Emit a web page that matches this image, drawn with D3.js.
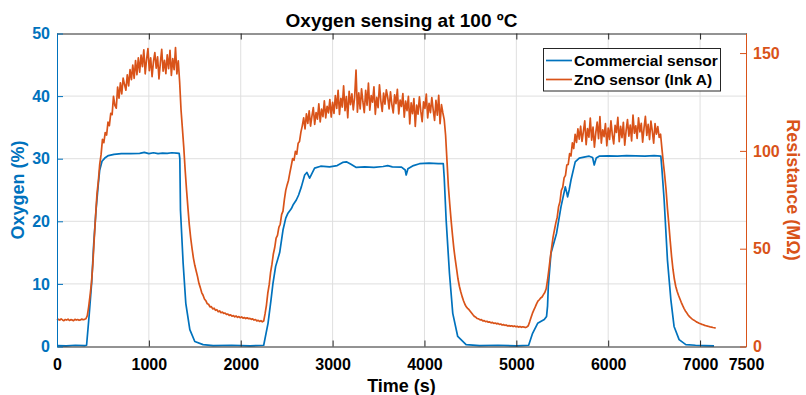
<!DOCTYPE html>
<html>
<head>
<meta charset="utf-8">
<script src="https://cdn.jsdelivr.net/npm/d3@7"></script>
<style>
  html, body { margin: 0; padding: 0; background: #fff; }
  svg { display: block; font-family: Arial, "Liberation Sans", Helvetica, sans-serif; }
</style>
</head>
<body>
<svg id="chart" width="806" height="395"></svg>
<script>
// ---- data -------------------------------------------------------------
const xTicks = [0, 1000, 2000, 3000, 4000, 5000, 6000, 7000, 7500];
const oxygenTicks = [0, 10, 20, 30, 40, 50];
const resistanceTicks = [0, 50, 100, 150];

// Commercial oxygen sensor: time (s) and oxygen (%)
const commercialTime = [
  0, 100, 200, 300, 322, 350, 377, 400, 425, 450, 465, 490, 520, 560, 620, 700, 800, 900, 950, 1000,
  1050, 1100, 1150, 1200, 1250, 1300, 1330, 1337, 1344, 1373, 1402, 1446, 1500, 1590, 1700, 1900, 2100, 2250,
  2297, 2330, 2351, 2380, 2424, 2460, 2490, 2514, 2550, 2569, 2605, 2630, 2660, 2696, 2720, 2750, 2804, 2870,
  2967, 3050, 3109, 3150, 3200, 3258, 3350, 3450, 3550, 3600, 3650, 3750, 3790, 3801, 3820, 3880, 3946, 4050,
  4150, 4205, 4215, 4236, 4272, 4308, 4362, 4453, 4600, 4800, 5000, 5134,
  5177, 5232, 5304, 5329, 5340, 5348, 5377, 5438, 5486, 5533, 5550, 5558, 5575, 5595, 5641, 5685, 5750, 5793,
  5830, 5848, 5870, 5902, 6000, 6100, 6200, 6300, 6400, 6500, 6573, 6584, 6609, 6645, 6682, 6717, 6772, 6845,
  6950, 7050, 7152
];
const commercialO2 = [
  0.15, 0.1, 0.2, 0.15, 0.2, 5.0, 10.1, 16.5, 21.8, 26.0, 28.2, 29.6, 30.1, 30.5, 30.7, 30.8, 30.8, 30.85, 31.0, 30.8,
  30.95, 30.8, 30.9, 30.85, 30.95, 30.9, 30.85, 30.0, 21.8, 13.3, 6.9, 2.7, 0.8, 0.3, 0.15, 0.2, 0.1, 0.2,
  3.7, 7.5, 10.1, 12.8, 15.0, 18.6, 20.5, 21.3, 22.0, 22.6, 23.4, 24.2, 25.5, 27.4, 27.8, 26.9, 28.5, 28.8,
  28.7, 28.9, 29.4, 29.5, 29.1, 28.6, 28.7, 28.6, 28.75, 28.9, 28.7, 28.65, 28.2, 27.4, 28.4, 28.9, 29.2, 29.3,
  29.2, 29.2, 27.0, 20.2, 11.7, 5.3, 1.6, 0.3, 0.15, 0.2, 0.1, 0.2,
  2.1, 3.7, 4.3, 4.8, 6.5, 9.6, 14.9, 18.1, 22.3, 25.5, 24.5, 23.9, 25.0, 26.6, 29.5, 30.1, 30.3, 30.4,
  30.2, 29.0, 30.1, 30.4, 30.45, 30.4, 30.5, 30.45, 30.4, 30.5, 30.4, 28.5, 23.4, 13.8, 7.5, 3.2, 1.1, 0.3,
  0.2, 0.15, 0.1
];

// ZnO sensor (Ink A): resistance (MΩ), one reading every 15 s from t = 0
const znoStart = 0;
const znoInterval = 15;
const znoResistance = [
  13.4, 13.9, 13.5, 14.1, 13.6, 13.2, 13.8, 13.5, 14.0, 13.3, 13.7, 13.6, 13.2, 13.9, 13.5, 13.8, 13.4, 13.6, 14.0, 13.7,
  13.9, 14.2, 15.8, 20.4, 26.1, 32.5, 42.0, 54.8, 66.5, 77.9, 84.6, 93.1, 98.2, 105.9, 104.2, 109.4, 108.1, 114.7, 112.9, 119.2,
  118.5, 127.9, 123.2, 121.8, 132.6, 127.0, 134.8, 129.1, 137.2, 133.9, 131.0, 138.9, 133.2, 141.6, 136.4, 143.8, 137.1, 146.2, 138.9, 147.5,
  140.2, 148.9, 143.1, 151.7, 139.4, 146.8, 152.3, 141.0, 147.5, 137.9, 145.6, 150.2, 142.3, 148.1, 136.8, 144.9, 151.9, 140.7, 146.3, 139.5,
  149.1, 142.0, 151.4, 138.6, 147.2, 141.5, 152.8, 139.3, 146.0, 135.2, 121.0, 111.5, 101.8, 90.2, 80.1, 71.0, 62.3, 55.6, 50.1, 45.2,
  41.5, 38.6, 35.7, 32.3, 30.1, 27.6, 26.2, 24.3, 23.4, 21.9, 21.6, 20.3, 20.4, 19.2, 19.6, 18.5, 18.8, 17.8, 18.2, 17.3,
  17.6, 16.9, 17.1, 16.4, 16.6, 15.9, 16.2, 15.5, 15.8, 15.2, 15.6, 14.9, 15.3, 14.7, 15.1, 14.5, 14.8, 14.3, 14.7, 14.2,
  14.4, 13.9, 14.1, 13.5, 13.8, 13.1, 13.4, 12.8, 13.2, 12.6, 13.0, 16.8, 21.2, 27.4, 31.6, 37.9, 42.1, 47.3, 50.6, 55.4,
  56.8, 60.9, 62.5, 67.4, 69.2, 75.1, 79.8, 82.6, 85.0, 88.9, 92.4, 96.1, 95.2, 99.7, 98.3, 103.9, 104.8, 109.6, 112.8, 116.9,
  111.2, 118.9, 114.0, 120.5, 112.7, 117.8, 122.1, 113.5, 119.6, 116.2, 124.0, 114.8, 121.3, 117.5, 125.6, 116.9, 122.8, 119.4, 126.2, 117.3,
  124.8, 119.1, 128.3, 121.7, 131.0, 118.6, 126.9, 122.4, 133.2, 120.5, 127.8, 116.9, 130.4, 123.6, 129.1, 121.0, 127.5, 141.3, 119.8, 129.6,
  121.4, 131.7, 125.0, 119.6, 130.9, 123.3, 134.6, 120.8, 128.2, 124.9, 132.7, 118.7, 127.4, 122.1, 133.8, 125.6, 120.2, 129.5, 123.9, 131.2,
  127.3, 121.5, 130.2, 123.8, 119.4, 128.6, 124.1, 131.5, 118.9, 126.0, 122.7, 129.3, 117.2, 125.4, 120.6, 127.9, 113.8, 124.5, 119.0, 126.7,
  112.5, 123.4, 118.8, 127.6, 120.3, 114.9, 125.1, 121.7, 129.0, 116.8, 124.3, 119.5, 127.2, 121.0, 115.6, 125.8, 118.2, 128.4, 113.9, 123.6,
  119.5, 116.0, 108.0, 95.0, 82.0, 73.0, 64.5, 57.0, 50.0, 44.5, 39.5, 34.5, 30.8, 28.0, 25.5, 23.4, 21.6, 20.3, 19.5, 18.8,
  17.9, 17.0, 16.1, 15.3, 14.9, 14.3, 14.1, 13.6, 13.7, 13.1, 13.2, 12.7, 12.9, 12.4, 12.6, 12.1, 12.3, 11.8, 12.0, 11.6,
  11.8, 11.3, 11.5, 11.0, 11.2, 10.8, 11.0, 10.5, 10.7, 10.4, 10.6, 10.2, 10.5, 10.1, 10.3, 9.9, 10.2, 9.8, 10.1, 9.9,
  9.7, 10.0, 10.6, 12.6, 14.8, 16.9, 18.6, 20.1, 21.8, 23.2, 23.9, 24.8, 25.3, 26.5, 27.6, 29.5, 34.0, 39.5, 45.5, 50.8,
  55.9, 59.6, 63.2, 66.1, 71.5, 74.0, 79.8, 81.3, 86.2, 87.5, 92.8, 93.1, 98.6, 97.4, 104.1, 101.2, 108.5, 104.3, 111.2, 106.0,
  112.6, 104.8, 109.9, 115.3, 103.2, 111.4, 107.0, 116.8, 105.5, 112.1, 101.9, 109.3, 114.7, 106.2, 117.5, 104.0, 110.8, 107.3, 113.9, 102.6,
  111.7, 105.9, 115.4, 108.2, 103.6, 113.0, 109.4, 117.1, 104.7, 112.5, 106.8, 114.6, 102.9, 110.3, 116.0, 107.5, 113.2, 105.1, 118.3, 109.0,
  112.8, 106.4, 116.9, 109.7, 114.1, 104.5, 111.6, 117.6, 107.9, 113.5, 105.8, 115.2, 110.1, 103.9, 114.0, 108.6, 112.4, 106.9, 108.5, 101.0,
  94.0, 87.5, 80.0, 70.5, 62.5, 54.0, 46.0, 39.5, 34.5, 30.8, 28.2, 26.2, 24.4, 22.6, 21.0, 19.5, 18.2, 17.2, 16.1, 15.3,
  14.6, 14.0, 13.5, 13.1, 12.6, 12.3, 11.9, 11.6, 11.3, 11.1, 10.8, 10.6, 10.4, 10.2, 10.0, 9.9, 9.7, 9.6, 9.4
];

const seriesNames = ["Commercial sensor", "ZnO sensor (Ink A)"];
const titleText = "Oxygen sensing at 100 ºC";

// ---- layout -----------------------------------------------------------
const BLUE = "#0072BD", ORANGE = "#D95319", AXIS = "#262626", GRID = "#dfdfdf";
const plotLeft = 57, plotRight = 746, plotTop = 33.5, plotBottom = 346.5;
const font = "Arial, 'Liberation Sans', Helvetica, sans-serif";

const svg = d3.select("#chart");

const x = d3.scaleLinear().domain([0, 7500]).range([plotLeft, plotRight]);
const yO2 = d3.scaleLinear().domain([0, 50]).range([plotBottom, plotTop]);
const yRes = d3.scaleLinear().domain([0, 160]).range([plotBottom, plotTop]);

// grid
const grid = svg.append("g");
grid.selectAll("line.gx")
  .data(xTicks.filter(t => t > 0 && t < 7500))
  .join("line")
  .attr("x1", d => x(d)).attr("x2", d => x(d))
  .attr("y1", plotTop).attr("y2", plotBottom)
  .attr("stroke", GRID).attr("stroke-width", 1);
grid.selectAll("line.gy")
  .data(oxygenTicks.filter(t => t > 0 && t < 50))
  .join("line")
  .attr("x1", plotLeft).attr("x2", plotRight)
  .attr("y1", d => yO2(d)).attr("y2", d => yO2(d))
  .attr("stroke", GRID).attr("stroke-width", 1);

// series
const commercial = commercialTime.map((t, i) => [t, commercialO2[i]]);
const zno = znoResistance.map((r, i) => [znoStart + i * znoInterval, r]);

const plot = svg.append("g");
plot.append("path")
  .datum(commercial)
  .attr("fill", "none").attr("stroke", BLUE).attr("stroke-width", 1.7)
  .attr("stroke-linejoin", "round")
  .attr("d", d3.line().x(d => x(d[0])).y(d => yO2(d[1])));
plot.append("path")
  .datum(zno)
  .attr("fill", "none").attr("stroke", ORANGE).attr("stroke-width", 1.7)
  .attr("stroke-linejoin", "round")
  .attr("d", d3.line().x(d => x(d[0])).y(d => yRes(d[1])));

// axes
function styleAxis(g, color, fontColor) {
  g.select(".domain").attr("stroke", color).attr("stroke-width", 1);
  g.selectAll(".tick line").attr("stroke", color).attr("stroke-width", 1);
  g.selectAll(".tick text")
    .attr("fill", fontColor)
    .style("font-size", "16px").style("font-weight", "bold")
    .style("font-family", font);
}

const xAxisBottom = svg.append("g")
  .attr("transform", `translate(0,${plotBottom})`)
  .call(d3.axisBottom(x).tickValues(xTicks).tickFormat(d3.format("d"))
    .tickSizeInner(-6).tickSizeOuter(0).tickPadding(12));
styleAxis(xAxisBottom, AXIS, "#000");

const xAxisTop = svg.append("g")
  .attr("transform", `translate(0,${plotTop})`)
  .call(d3.axisTop(x).tickValues(xTicks).tickFormat("")
    .tickSizeInner(-6).tickSizeOuter(0));
styleAxis(xAxisTop, AXIS, "#000");

const yAxisLeft = svg.append("g")
  .attr("transform", `translate(${plotLeft},0)`)
  .call(d3.axisLeft(yO2).tickValues(oxygenTicks).tickFormat(d3.format("d"))
    .tickSizeInner(-6).tickSizeOuter(0).tickPadding(7));
styleAxis(yAxisLeft, BLUE, BLUE);

const yAxisRight = svg.append("g")
  .attr("transform", `translate(${plotRight},0)`)
  .call(d3.axisRight(yRes).tickValues(resistanceTicks).tickFormat(d3.format("d"))
    .tickSizeInner(-6).tickSizeOuter(0).tickPadding(7));
styleAxis(yAxisRight, ORANGE, ORANGE);

// titles and labels
svg.append("text")
  .attr("x", (plotLeft + plotRight) / 2).attr("y", 26.5)
  .attr("text-anchor", "middle")
  .style("font-family", font).style("font-size", "19px").style("font-weight", "bold")
  .attr("fill", "#000").text(titleText);

svg.append("text")
  .attr("x", (plotLeft + plotRight) / 2).attr("y", 391.5)
  .attr("text-anchor", "middle")
  .style("font-family", font).style("font-size", "18px").style("font-weight", "bold")
  .attr("fill", "#000").text("Time (s)");

svg.append("text")
  .attr("transform", `translate(24,${(plotTop + plotBottom) / 2}) rotate(-90)`)
  .attr("text-anchor", "middle")
  .style("font-family", font).style("font-size", "18px").style("font-weight", "bold")
  .attr("fill", BLUE).text("Oxygen (%)");

svg.append("text")
  .attr("transform", `translate(787,${(plotTop + plotBottom) / 2}) rotate(90)`)
  .attr("text-anchor", "middle")
  .style("font-family", font).style("font-size", "18px").style("font-weight", "bold")
  .attr("fill", ORANGE).text("Resistance (MΩ)");

// legend
const legend = svg.append("g");
legend.append("rect")
  .attr("x", 543.5).attr("y", 48.5).attr("width", 177).attr("height", 42.5)
  .attr("fill", "#fff").attr("stroke", AXIS).attr("stroke-width", 1);
const legendColors = [BLUE, ORANGE];
seriesNames.forEach((name, i) => {
  const cy = 60.5 + i * 19;
  legend.append("line")
    .attr("x1", 546).attr("x2", 572).attr("y1", cy).attr("y2", cy)
    .attr("stroke", legendColors[i]).attr("stroke-width", 1.7);
  legend.append("text")
    .attr("x", 574).attr("y", cy + 5.5)
    .style("font-family", font).style("font-size", "15.5px").style("font-weight", "bold")
    .attr("fill", "#000").text(name);
});
</script>
</body>
</html>
